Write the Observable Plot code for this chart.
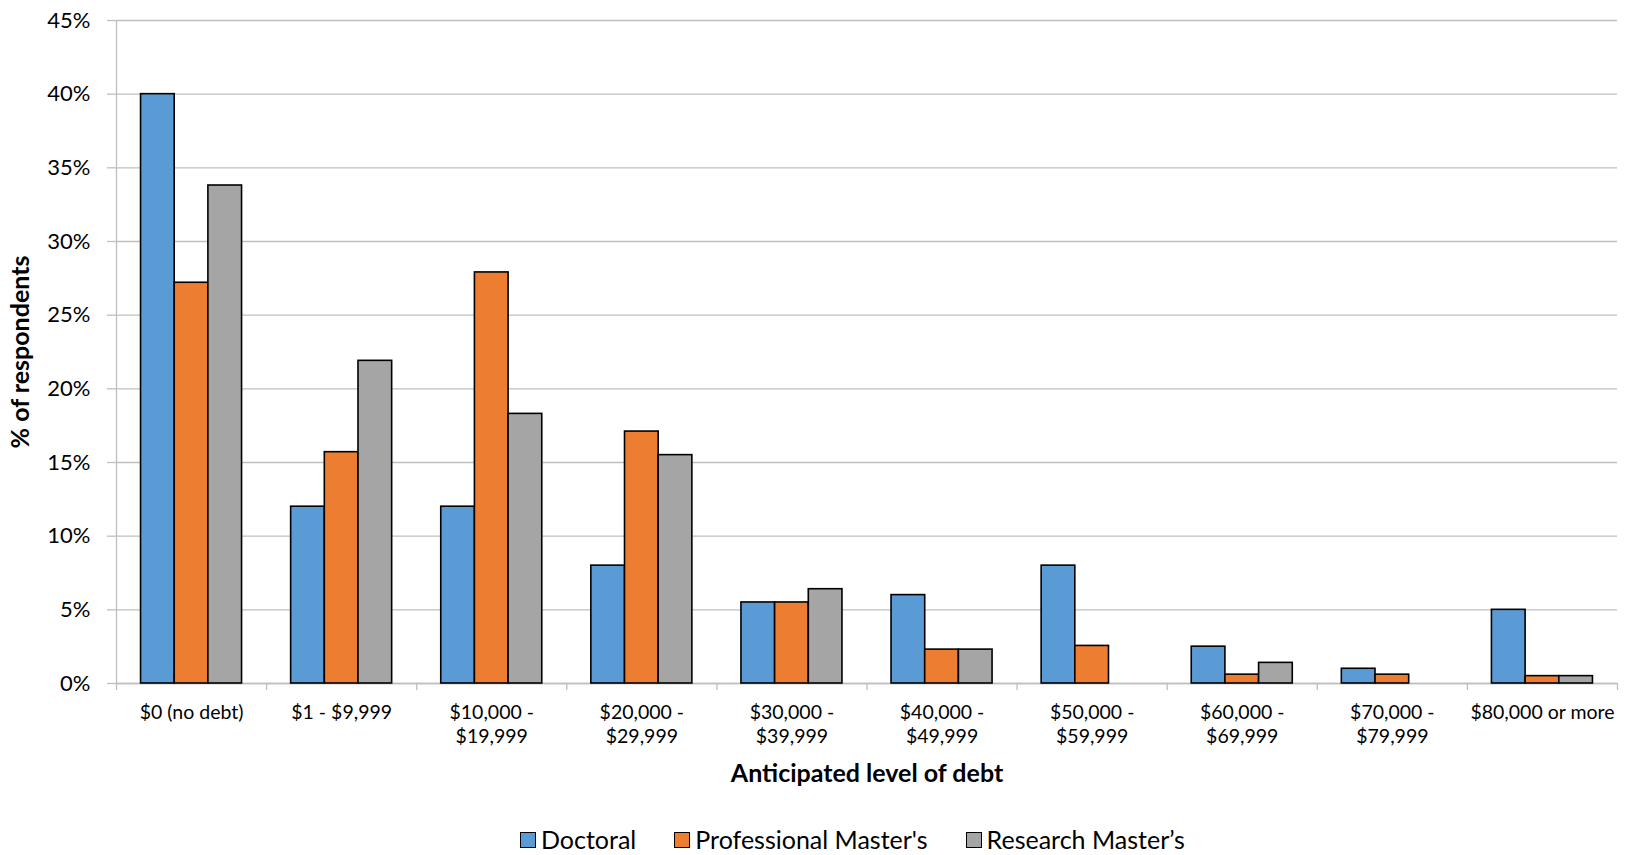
<!DOCTYPE html>
<html>
<head>
<meta charset="utf-8">
<script src="https://cdn.jsdelivr.net/npm/d3@7"></script>
<script src="https://cdn.jsdelivr.net/npm/@observablehq/plot@0.6"></script>
<style>
  html, body { margin: 0; padding: 0; background: #fff; }
  #chart { width: 1630px; height: 855px; overflow: hidden; font-family: Lato, "Open Sans", sans-serif; }
  .legend { display: flex; align-items: center; padding-left: 520px; padding-top: 12px; font-size: 25px; line-height: 1; color: #000; }
  .legend .item { display: flex; align-items: center; margin-right: 38px; }
  .legend .swatch { width: 14px; height: 14px; border: 1.5px solid #000; margin-right: 5px; }
</style>
</head>
<body>
<div id="chart"></div>
<script>
// Anticipated level of debt at graduation, share of respondents (%)
const categories = [
  "$0 (no debt)",
  "$1 - $9,999",
  "$10,000 -\n$19,999",
  "$20,000 -\n$29,999",
  "$30,000 -\n$39,999",
  "$40,000 -\n$49,999",
  "$50,000 -\n$59,999",
  "$60,000 -\n$69,999",
  "$70,000 -\n$79,999",
  "$80,000 or more"
];
const seriesNames = ["Doctoral", "Professional Master's", "Research Master’s"];
const doctoral     = [40.0, 12.0, 12.0,  8.0, 5.5, 6.0, 8.0, 2.5, 1.0, 5.0];
const professional = [27.2, 15.7, 27.9, 17.1, 5.5, 2.3, 2.55, 0.6, 0.6, 0.5];
const research     = [33.8, 21.9, 18.3, 15.5, 6.4, 2.3, 0.0, 1.4, 0.0, 0.5];
const yTicks = [0, 5, 10, 15, 20, 25, 30, 35, 40, 45];
const colors = ["#5b9bd5", "#ed7d31", "#a5a5a5"];

// Each category occupies one unit on x; the three series share the middle of it.
const groupWidth = 0.673;
const barWidth = groupWidth / seriesNames.length;
const groupStart = (1 - groupWidth) / 2;

const seriesValues = [doctoral, professional, research];
const rows = [];
categories.forEach((category, i) => {
  seriesValues.forEach((values, s) => {
    rows.push({category, series: seriesNames[s], value: values[i], i, s});
  });
});

const gridColor = "#bfbfbf";

const chart = Plot.plot({
  width: 1630,
  height: 815,
  marginLeft: 116,
  marginRight: 13,
  marginTop: 20,
  marginBottom: 132,
  style: {fontFamily: "Lato, 'Open Sans', sans-serif", background: "#fff", color: "#000"},
  x: {domain: [0, categories.length]},
  y: {domain: [0, 45]},
  color: {domain: seriesNames, range: colors},
  marks: [
    Plot.gridY(yTicks, {stroke: gridColor, strokeOpacity: 1, strokeWidth: 1.3}),
    Plot.axisY({
      ticks: yTicks,
      tickFormat: d => d + "%",
      tickSize: 9,
      tickPadding: 17,
      fontSize: 22,
      stroke: gridColor,
      strokeWidth: 1.3,
      fill: "#000",
      label: null
    }),
    Plot.axisX({
      ticks: d3.range(0, categories.length + 1),
      tickSize: 7,
      tickFormat: () => "",
      stroke: gridColor,
      strokeWidth: 1.3,
      label: null
    }),
    Plot.axisX({
      ticks: categories.map((_, i) => i + 0.5),
      tickSize: 0,
      tickPadding: 18,
      tickFormat: x => categories[Math.floor(x)],
      fontSize: 19.5,
      lineHeight: 1.23,
      fill: "#000",
      label: null
    }),
    Plot.ruleX([0], {stroke: gridColor, strokeWidth: 1.3}),
    Plot.ruleY([0], {stroke: gridColor, strokeWidth: 1.3}),
    Plot.rectY(rows.filter(d => d.value > 0), {
      x1: d => d.i + groupStart + d.s * barWidth,
      x2: d => d.i + groupStart + (d.s + 1) * barWidth,
      y: "value",
      fill: "series",
      stroke: "#000",
      strokeWidth: 1.6
    }),
    Plot.text(["% of respondents"], {
      text: d => d,
      frameAnchor: "left",
      textAnchor: "middle",
      rotate: -90,
      dx: -96,
      fontSize: 25,
      fontWeight: "bold",
      fill: "#000"
    }),
    Plot.text(["Anticipated level of debt"], {
      text: d => d,
      frameAnchor: "bottom",
      dy: 98,
      fontSize: 25,
      fontWeight: "bold",
      fill: "#000"
    })
  ]
});

const root = document.getElementById("chart");
root.appendChild(chart);

const legend = document.createElement("div");
legend.className = "legend";
seriesNames.forEach((name, s) => {
  const item = document.createElement("div");
  item.className = "item";
  const swatch = document.createElement("span");
  swatch.className = "swatch";
  swatch.style.background = colors[s];
  const label = document.createElement("span");
  label.textContent = name;
  item.appendChild(swatch);
  item.appendChild(label);
  legend.appendChild(item);
});
root.appendChild(legend);
</script>
</body>
</html>
